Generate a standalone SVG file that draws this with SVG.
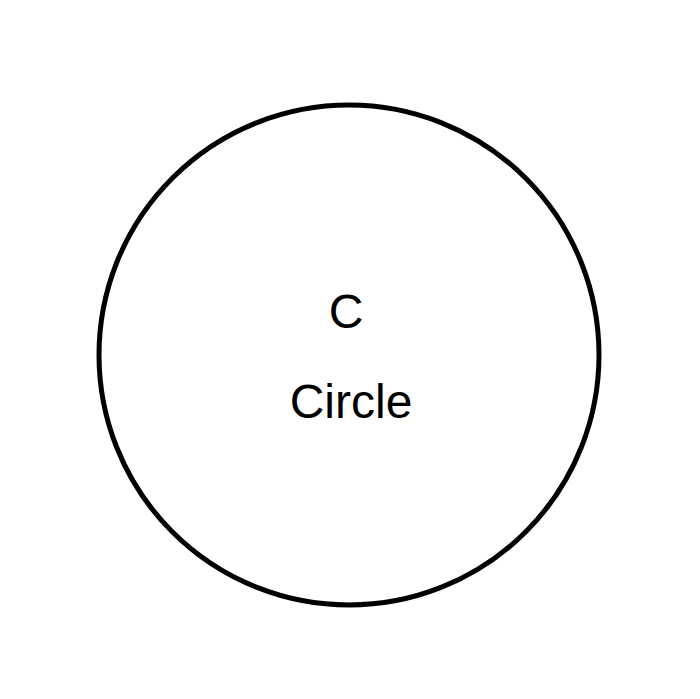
<svg xmlns="http://www.w3.org/2000/svg" width="700" height="699" viewBox="0 0 700 699">
<style>
.t{font-family:"Liberation Sans",Arial,sans-serif;font-size:48px;fill:#000;text-anchor:middle}
</style>
<rect width="700" height="699" fill="#fff"/>
<g id="C">
<circle cx="349" cy="355" r="250" fill="#fff" stroke="#000" stroke-width="5"/>
<text class="t" x="346" y="328">C</text>
<text class="t" x="351" y="418">Circle</text>
</g>
</svg>
